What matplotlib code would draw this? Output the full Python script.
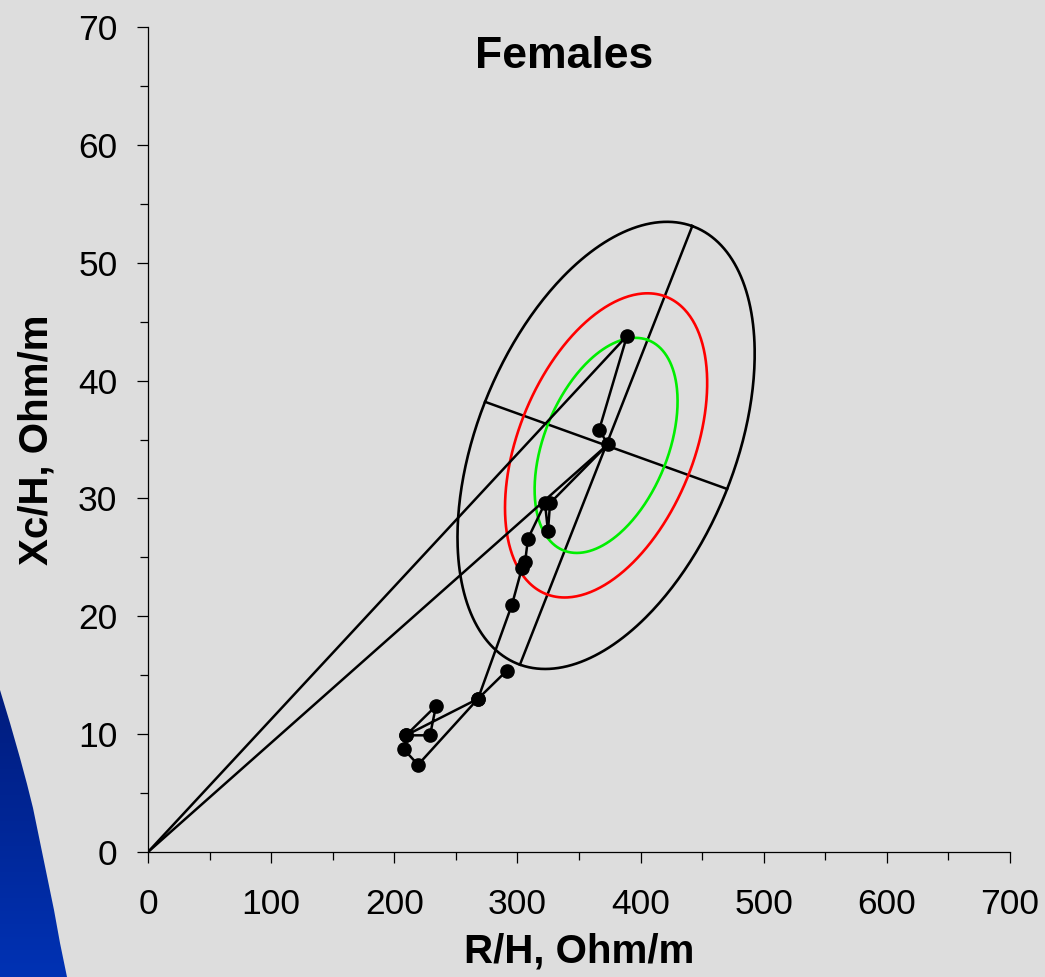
import numpy as np
import matplotlib
matplotlib.use("Agg")
import matplotlib.pyplot as plt
from matplotlib.path import Path
from matplotlib.patches import PathPatch
from matplotlib.ticker import MultipleLocator

plt.rcParams['font.family'] = ['Liberation Sans', 'DejaVu Sans']

# follow-up measurements, in the order they are joined
r_h = [389.0, 366.3, 373.6, 326.5, 324.8, 322.4, 308.6, 306.2, 303.7, 295.6,
       268.0, 219.3, 207.9, 209.5, 229.0, 233.9, 209.5, 268.0, 291.5]
xc_h = [43.8, 35.8, 34.6, 29.6, 27.2, 29.6, 26.6, 24.6, 24.1, 21.0,
        13.0, 7.4, 8.7, 9.9, 9.9, 12.4, 9.9, 13.0, 15.4]

# impedance vectors drawn from the origin
vec_r = [389.0, 373.6]
vec_xc = [43.8, 34.6]

# reference population (females)
mean_r = 372.0
mean_xc = 34.5
sd_r = 49.3
sd_xc = 7.75
corr = 0.41
levels = [0.95, 0.75, 0.50]
level_colors = ['black', '#ff0000', '#00ee00']

bg = '#dddddd'
fig = plt.figure(figsize=(10.45, 9.77), dpi=100, facecolor=bg)

# blue swoosh in the lower left corner
bgax = fig.add_axes([0, 0, 1, 1], zorder=-1)
bgax.set_xlim(0, 1045)
bgax.set_ylim(977, 0)
bgax.axis('off')
edge = [(0, 690), (10, 723), (20, 758), (27, 784), (33, 808), (40, 842),
        (47, 876), (54, 910), (60, 943), (67, 977), (0, 977)]
grad = np.linspace(0, 1, 100)
cols = np.zeros((100, 1, 3))
cols[:, 0, 1] = (28 + grad * 22) / 255
cols[:, 0, 2] = (125 + grad * 55) / 255
im = bgax.imshow(cols, extent=[0, 80, 977, 690], aspect='auto')
patch = PathPatch(Path(edge + [edge[0]]), facecolor='none', edgecolor='none')
bgax.add_patch(patch)
im.set_clip_path(patch)

ax = fig.add_axes([148 / 1045, 1 - 852 / 977, 862 / 1045, 825 / 977])
ax.set_facecolor('none')

# tolerance ellipses; axes computed with Xc scaled by 10
cov = np.array([[sd_r ** 2, corr * sd_r * sd_xc],
                [corr * sd_r * sd_xc, sd_xc ** 2]])
S = np.diag([1.0, 10.0])
vals, vecs = np.linalg.eigh(S @ cov @ S)
t = np.linspace(0, 2 * np.pi, 400)
for p, c in zip(levels, level_colors):
    k = np.sqrt(-2 * np.log(1 - p))
    a1 = vecs[:, 1] * np.sqrt(vals[1]) * k
    a2 = vecs[:, 0] * np.sqrt(vals[0]) * k
    ex = mean_r + a1[0] * np.cos(t) + a2[0] * np.sin(t)
    ey = mean_xc + (a1[1] * np.cos(t) + a2[1] * np.sin(t)) / 10
    ax.plot(ex, ey, color=c, lw=1.9, zorder=2)
    if p == 0.95:
        ax.plot([mean_r - a1[0], mean_r + a1[0]],
                [mean_xc - a1[1] / 10, mean_xc + a1[1] / 10], color='black', lw=1.8, zorder=2)
        ax.plot([mean_r - a2[0], mean_r + a2[0]],
                [mean_xc - a2[1] / 10, mean_xc + a2[1] / 10], color='black', lw=1.8, zorder=2)

for vr, vx in zip(vec_r, vec_xc):
    ax.plot([0, vr], [0, vx], color='black', lw=1.8, zorder=3)

ax.plot(r_h, xc_h, color='black', lw=1.8, marker='o', markersize=9.5, zorder=4)

ax.set_xlim(0, 700)
ax.set_ylim(0, 70)
ax.xaxis.set_major_locator(MultipleLocator(100))
ax.xaxis.set_minor_locator(MultipleLocator(50))
ax.yaxis.set_major_locator(MultipleLocator(10))
ax.yaxis.set_minor_locator(MultipleLocator(5))
ax.tick_params(which='major', direction='out', length=8, width=0.9, labelsize=25.5, pad=14)
ax.tick_params(axis='x', which='major', pad=18)
ax.tick_params(which='minor', direction='out', length=6, width=0.9)
for s in ['top', 'right']:
    ax.spines[s].set_visible(False)
for s in ['left', 'bottom']:
    ax.spines[s].set_linewidth(0.9)

ax.set_xlabel('R/H, Ohm/m', fontsize=29, fontweight='bold', labelpad=8)
ax.set_ylabel('Xc/H, Ohm/m', fontsize=29, fontweight='bold', labelpad=16)
ax.text(0.4826, 0.950, 'Females', transform=ax.transAxes, ha='center', va='baseline',
        fontsize=32, fontweight='bold')

fig.savefig('out.png', dpi=100, facecolor=bg)
